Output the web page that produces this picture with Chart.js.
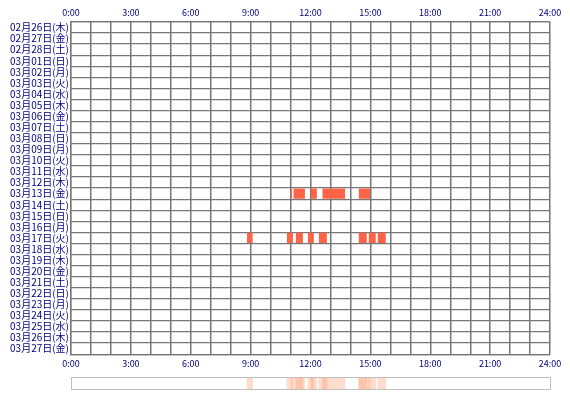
<!DOCTYPE html>
<html><head><meta charset="utf-8">
<script src="https://cdn.jsdelivr.net/npm/chart.js@4"></script>
<style>
body{margin:0;background:#fff;}
#main{position:absolute;left:0;top:0;}
#strip{position:absolute;left:0;top:371px;}
</style></head>
<body>
<canvas id="main" width="570" height="373"></canvas>
<canvas id="strip" width="570" height="29"></canvas>
<script>
const days = ['02月26日(木)','02月27日(金)','02月28日(土)','03月01日(日)','03月02日(月)','03月03日(火)','03月04日(水)',
  '03月05日(木)','03月06日(金)','03月07日(土)','03月08日(日)','03月09日(月)','03月10日(火)','03月11日(水)',
  '03月12日(木)','03月13日(金)','03月14日(土)','03月15日(日)','03月16日(月)','03月17日(火)','03月18日(水)',
  '03月19日(木)','03月20日(金)','03月21日(土)','03月22日(日)','03月23日(月)','03月24日(火)','03月25日(水)',
  '03月26日(木)','03月27日(金)'];
const hourTicks = ['0:00','3:00','6:00','9:00','12:00','15:00','18:00','21:00','24:00'];
// [day, start hour, end hour]
const sessions = [
  ['03月13日(金)', 11.03, 11.08],
  ['03月13日(金)', 11.15, 11.72],
  ['03月13日(金)', 12.02, 12.32],
  ['03月13日(金)', 12.6, 13.73],
  ['03月13日(金)', 14.42, 14.98],
  ['03月17日(火)', 8.82, 9.1],
  ['03月17日(火)', 10.82, 11.12],
  ['03月17日(火)', 11.27, 11.62],
  ['03月17日(火)', 11.87, 12.17],
  ['03月17日(火)', 12.42, 12.82],
  ['03月17日(火)', 14.42, 14.82],
  ['03月17日(火)', 14.92, 15.27],
  ['03月17日(火)', 15.37, 15.77]
];

const font = {family:"'Noto Sans CJK JP', sans-serif", size:9};
const navy = '#000080';
const tickCb = v => (v % 3 === 0 ? hourTicks[v / 3] : '');
const xAxis = pos => ({
  type:'linear', position:pos, min:0, max:24,
  grid:{color:'#777', lineWidth:1.3, drawTicks:false},
  border:{color:'#777', width:1.3},
  ticks:{stepSize:1, autoSkip:false, maxRotation:0, callback:tickCb, color:navy, font, padding:4}
});

new Chart(document.getElementById('main'), {
  type:'bar',
  data:{
    labels:days,
    datasets:[{
      data:sessions.map(s => ({y:s[0], x:[s[1], s[2]]})),
      backgroundColor:'#ff6347',
      barPercentage:1, categoryPercentage:0.92, grouped:false
    }]
  },
  options:{
    indexAxis:'y', responsive:false, animation:false,
    layout:{padding:{top:6, right:20, bottom:0}},
    plugins:{legend:{display:false}, tooltip:{enabled:false}},
    scales:{
      x:xAxis('bottom'),
      x2:Object.assign(xAxis('top'), {afterFit: a => { a.height = 16; }}),
      y:{
        grid:{color:'#777', lineWidth:1.3, drawTicks:false}, border:{color:'#777', width:1.3},
        ticks:{color:navy, font:{family:font.family, size:10}, padding:2, autoSkip:false},
        afterFit: a => { a.width = 71; }
      }
    }
  }
});

new Chart(document.getElementById('strip'), {
  type:'bar',
  data:{
    labels:['all'],
    datasets:[{
      data:sessions.map(s => ({y:'all', x:[s[1], s[2]]})),
      backgroundColor:'rgba(255,140,90,0.3)',
      barPercentage:1, categoryPercentage:1, grouped:false
    }]
  },
  options:{
    indexAxis:'y', responsive:false, animation:false,
    layout:{padding:{left:71, right:20, top:6, bottom:11}},
    plugins:{legend:{display:false}, tooltip:{enabled:false}},
    scales:{
      x:{type:'linear', min:0, max:24, display:true, grid:{display:false, drawTicks:false}, ticks:{display:false}, border:{color:'#c0c0c0'}},
      y:{display:true, grid:{display:false, drawTicks:false}, ticks:{display:false}, border:{color:'#c0c0c0'}, afterFit: a => { a.width = 0; }}
    }
  },
  plugins:[{id:'frame', afterDraw(c){
    const a = c.chartArea, g = c.ctx;
    g.strokeStyle = '#c0c0c0'; g.lineWidth = 1;
    g.strokeRect(a.left + 0.5, a.top + 0.5, a.right - a.left, a.bottom - a.top);
  }}]
});
</script>
</body></html>
